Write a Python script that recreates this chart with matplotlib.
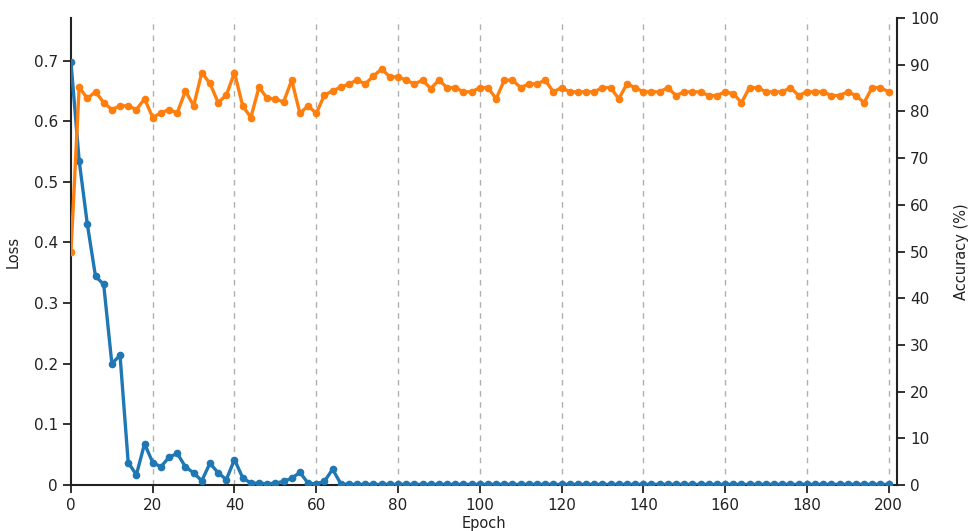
import numpy as np
import matplotlib
matplotlib.use("Agg")
import matplotlib.pyplot as plt

# epochs sampled every 2
epochs = list(range(0, 201, 2))

loss = [
    0.697, 0.535, 0.430, 0.344, 0.331, 0.200, 0.214, 0.037, 0.017, 0.068,
    0.037, 0.030, 0.046, 0.052, 0.030, 0.020, 0.007, 0.036, 0.020, 0.009,
    0.042, 0.012, 0.003, 0.003, 0.002, 0.003, 0.006, 0.011, 0.021, 0.003,
    0.002, 0.006, 0.026, 0.002, 0.001, 0.001, 0.001, 0.001, 0.001, 0.001,
    0.001, 0.001, 0.001, 0.001, 0.001, 0.001, 0.001, 0.001, 0.001, 0.001,
    0.001, 0.001, 0.001, 0.001, 0.001, 0.001, 0.001, 0.001, 0.001, 0.001,
    0.001, 0.001, 0.001, 0.001, 0.001, 0.001, 0.001, 0.001, 0.001, 0.001,
    0.001, 0.001, 0.001, 0.001, 0.001, 0.001, 0.001, 0.001, 0.001, 0.001,
    0.001, 0.001, 0.001, 0.001, 0.001, 0.001, 0.001, 0.001, 0.001, 0.001,
    0.001, 0.001, 0.001, 0.001, 0.001, 0.001, 0.001, 0.001, 0.001, 0.001,
    0.001,
]

accuracy = [
    50.0, 85.2, 82.8, 84.2, 81.9, 80.4, 81.2, 81.2, 80.4, 82.7,
    78.7, 79.7, 80.4, 79.7, 84.4, 81.2, 88.3, 86.0, 81.9, 83.5,
    88.3, 81.2, 78.7, 85.2, 82.8, 82.7, 82.0, 86.7, 79.6, 81.2,
    79.6, 83.5, 84.4, 85.2, 85.9, 86.7, 85.9, 87.6, 89.1, 87.4,
    87.4, 86.7, 85.9, 86.7, 84.9, 86.7, 85.1, 85.1, 84.2, 84.2,
    85.1, 85.1, 82.7, 86.7, 86.7, 85.1, 85.9, 85.9, 86.7, 84.2,
    85.1, 84.2, 84.2, 84.2, 84.2, 85.1, 85.1, 82.7, 85.9, 85.1,
    84.2, 84.2, 84.2, 85.1, 83.4, 84.2, 84.2, 84.2, 83.4, 83.4,
    84.2, 83.8, 81.9, 85.1, 85.1, 84.2, 84.2, 84.2, 85.1, 83.4,
    84.2, 84.2, 84.2, 83.4, 83.4, 84.2, 83.4, 81.9, 85.1, 85.1,
    84.2,
]

x_ticks = list(range(0, 201, 20))
loss_ticks = [0, 0.1, 0.2, 0.3, 0.4, 0.5, 0.6, 0.7]
acc_ticks = list(range(0, 101, 10))

BLUE = "#1f77b4"
ORANGE = "#ff7f0e"
TXT = "#222222"

plt.rcParams["font.family"] = ["DejaVu Sans"]

fig = plt.figure(figsize=(9.79, 5.31), dpi=100)
ax = fig.add_axes([0.0725, 0.0866, 0.8435, 0.8794])
ax2 = ax.twinx()

# vertical dashed grid
for xv in x_ticks[1:]:
    ax.axvline(xv, color="#b0b0b0", linestyle=(0, (4, 4)), linewidth=1, zorder=0)

ax.plot(epochs, loss, color=BLUE, linewidth=2.4, marker="o", markersize=4.5, zorder=3)
ax2.plot(epochs, accuracy, color=ORANGE, linewidth=2.4, marker="o", markersize=4.5, zorder=3)

ax.set_xlim(0, 202)
ax.set_ylim(0, 0.77)
ax2.set_ylim(0, 100)

ax.set_xticks(x_ticks)
ax.set_yticks(loss_ticks)
ax.set_yticklabels([f"{v:g}" for v in loss_ticks])
ax2.set_yticks(acc_ticks)

for a in (ax, ax2):
    a.spines["top"].set_visible(False)
    for s in a.spines.values():
        s.set_color(TXT)
        s.set_linewidth(1.5)
    a.tick_params(colors=TXT, labelsize=11, width=1.3, length=6)

ax.spines["right"].set_visible(False)
ax2.spines["left"].set_visible(False)
ax2.spines["bottom"].set_visible(False)

ax.set_xlabel("Epoch", fontsize=10.5, color=TXT, labelpad=2)
ax.set_ylabel("Loss", fontsize=10.5, color=TXT, labelpad=9)
ax2.set_ylabel("Accuracy (%)", fontsize=10.5, color=TXT, labelpad=11)

fig.savefig("out.png", dpi=100)
